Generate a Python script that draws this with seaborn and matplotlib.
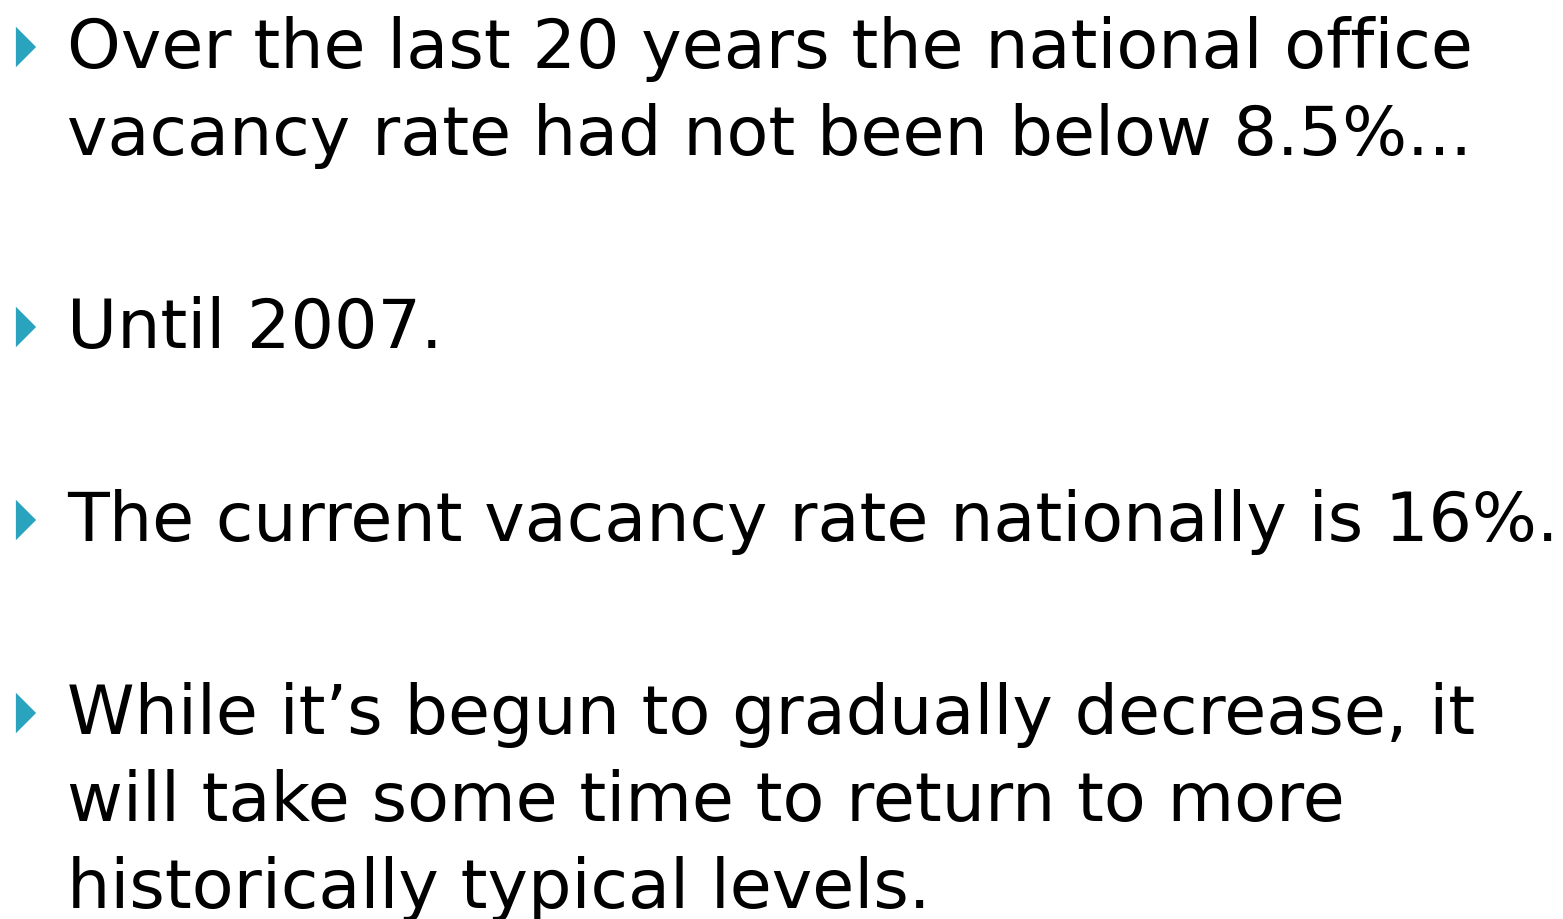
import matplotlib
matplotlib.use("Agg")
import matplotlib.pyplot as plt
import seaborn as sns
import pandas as pd
from matplotlib.path import Path

# --- slide content ---
paragraphs = [
    ["Over the last 20 years the national office",
     "vacancy rate had not been below 8.5%..."],
    ["Until 2007."],
    ["The current vacancy rate nationally is 16%."],
    ["While it\u2019s begun to gradually decrease, it",
     "will take some time to return to more",
     "historically typical levels."],
]

bullet_color = "#2aa3bf"
text_color = "#000000"

sns.set_theme(style="white")
plt.rcParams['font.family'] = ['DejaVu Sans']

W, H = 1563, 920
fig = plt.figure(figsize=(W / 100, H / 100), dpi=100)
ax = fig.add_axes([0, 0, 1, 1])

# layout in pixels
first_baseline = 68
line_step = 87
para_gap = 193
text_x = 67
bullet_x = 26
bullet_raise = 20

rows = []
bullets = []
y = first_baseline
for p in paragraphs:
    bullets.append({"x": bullet_x, "y": y - bullet_raise})
    for i, line in enumerate(p):
        rows.append((line, y))
        if i < len(p) - 1:
            y += line_step
    y += para_gap

for line, yy in rows:
    ax.text(text_x, yy, line, fontsize=49.2, color=text_color,
            va="baseline", ha="left")

# narrow right-pointing triangle bullet
tri = Path([(-0.5, -1), (0.5, 0), (-0.5, 1), (-0.5, -1)],
           [Path.MOVETO, Path.LINETO, Path.LINETO, Path.CLOSEPOLY])
sns.scatterplot(data=pd.DataFrame(bullets), x="x", y="y", ax=ax,
                marker=tri, s=850, color=bullet_color, edgecolor="none",
                legend=False)
ax.set_xlim(0, W)
ax.set_ylim(H, 0)
ax.axis("off")

fig.savefig("out.png", dpi=100, facecolor="white")
